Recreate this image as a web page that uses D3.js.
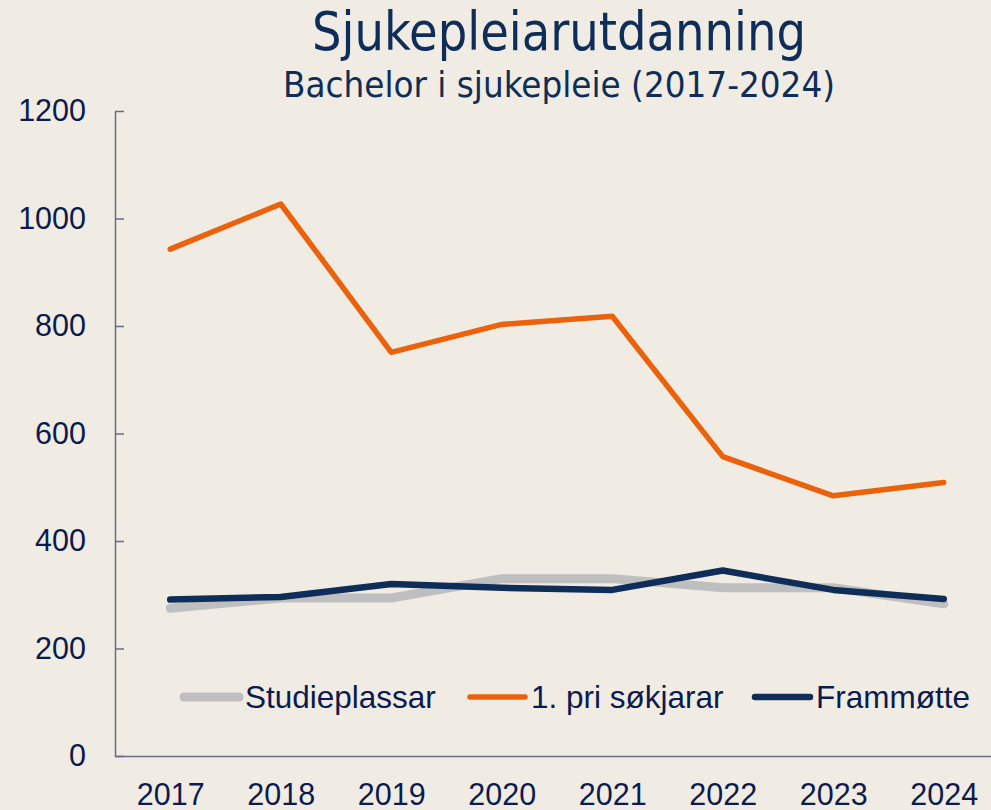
<!DOCTYPE html>
<html>
<head>
<meta charset="utf-8">
<script src="https://d3js.org/d3.v7.min.js"></script>
<style>
    body { margin: 0; background: #f0ece4; }
    svg { display: block; }
</style>
</head>
<body>
<script>
    let width = 991,
        height = 810;

    // data
    let years = ["2017", "2018", "2019", "2020", "2021", "2022", "2023", "2024"];
    let studieplassar = [275, 294, 294, 330, 330, 313, 313, 283];
    let sokjarar = [943, 1027, 751, 803, 818, 557, 484, 509];
    let frammotte = [291, 296, 320, 313, 309, 345, 309, 292];
    let yTicks = [0, 200, 400, 600, 800, 1000, 1200];

    let series = [
        {name: "Studieplassar", values: studieplassar, color: "#bfbfbf", w: 9},
        {name: "1. pri søkjarar", values: sokjarar, color: "#eb620d", w: 5.5},
        {name: "Frammøtte", values: frammotte, color: "#0e2d59", w: 6.5}
    ];

    let textColor = "#0c1b4d";

    let svg = d3.select("body").append("svg")
        .attr("width", width)
        .attr("height", height);

    svg.append("rect")
        .attr("width", width).attr("height", height)
        .attr("fill", "#f0ece4");

    // titles
    svg.append("text")
        .attr("x", 559).attr("y", 50)
        .attr("text-anchor", "middle")
        .attr("textLength", 494)
        .attr("lengthAdjust", "spacingAndGlyphs")
        .style("font-family", "'DejaVu Sans Condensed', 'DejaVu Sans', sans-serif")
        .style("font-size", "53px")
        .style("fill", "#0e2d59")
        .text("Sjukepleiarutdanning");

    svg.append("text")
        .attr("x", 559).attr("y", 97)
        .attr("text-anchor", "middle")
        .attr("textLength", 552)
        .attr("lengthAdjust", "spacingAndGlyphs")
        .style("font-family", "'DejaVu Sans Condensed', 'DejaVu Sans', sans-serif")
        .style("font-size", "35px")
        .style("fill", "#0e2d59")
        .text("Bachelor i sjukepleie (2017-2024)");

    let x = d3.scalePoint()
        .domain(years)
        .range([115, 999])
        .padding(0.5);

    let y = d3.scaleLinear()
        .domain([0, 1200])
        .range([756, 111]);

    // y axis
    let gy = svg.append("g")
        .attr("transform", "translate(115,0)")
        .call(d3.axisLeft(y).tickValues(yTicks).tickFormat(d3.format("d"))
            .tickSizeInner(-9).tickSizeOuter(0).tickPadding(29));

    // x axis
    let gx = svg.append("g")
        .attr("transform", "translate(0,756)")
        .call(d3.axisBottom(x).tickSize(0).tickPadding(27));

    [gx, gy].forEach(g => {
        g.selectAll("path, line").attr("stroke", "#676b88").attr("stroke-width", 1.5);
        g.selectAll("text")
            .style("font-family", "'Liberation Sans', Arial, sans-serif")
            .style("font-size", "30.5px")
            .style("fill", textColor);
    });

    // lines
    let line = d3.line()
        .x((d, i) => x(years[i]))
        .y(d => y(d));

    svg.selectAll("path.series")
        .data(series)
        .join("path")
            .attr("class", "series")
            .attr("d", d => line(d.values))
            .attr("fill", "none")
            .attr("stroke", d => d.color)
            .attr("stroke-width", d => d.w)
            .attr("stroke-linecap", "round")
            .attr("stroke-linejoin", "round");

    // legend
    let legendX = [184, 470, 755];
    let legend = svg.selectAll("g.legend")
        .data(series)
        .join("g")
            .attr("class", "legend")
            .attr("transform", (d, i) => `translate(${legendX[i]},697)`);

    legend.append("line")
        .attr("x1", 0).attr("x2", 55)
        .attr("stroke", d => d.color)
        .attr("stroke-width", d => d.w)
        .attr("stroke-linecap", "round");

    legend.append("text")
        .attr("x", 61).attr("y", 11)
        .style("font-family", "'Liberation Sans', Arial, sans-serif")
        .style("font-size", "31.5px")
        .style("fill", textColor)
        .text(d => d.name);
</script>
</body>
</html>
